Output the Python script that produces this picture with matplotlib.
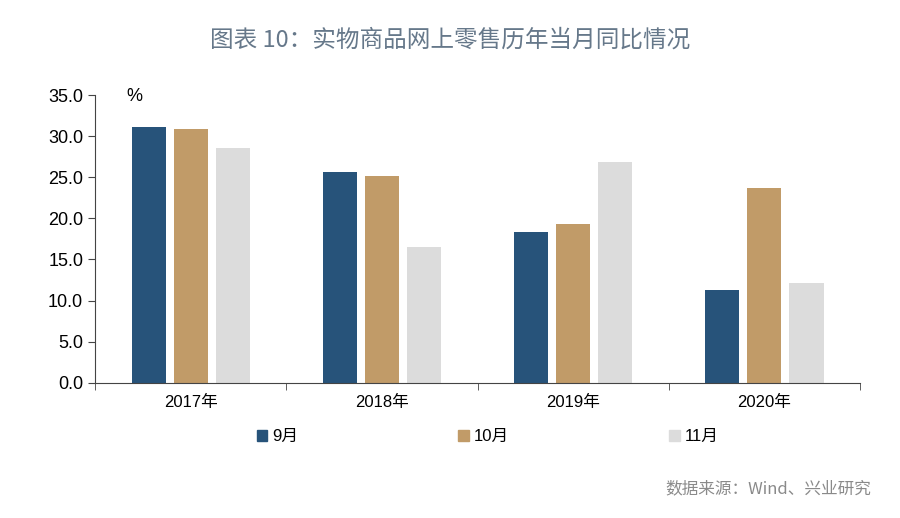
import numpy as np
import matplotlib
matplotlib.use('Agg')
import matplotlib.pyplot as plt
from matplotlib.patches import Patch

plt.rcParams['font.family'] = ['Liberation Sans', 'Noto Sans CJK SC', 'DejaVu Sans']

years = ['2017年', '2018年', '2019年', '2020年']
months = ['9月', '10月', '11月']
sep = [31.1, 25.7, 18.3, 11.3]
octo = [30.85, 25.1, 19.3, 23.7]
nov = [28.5, 16.5, 26.8, 12.1]
colors = ['#27537a', '#c19b68', '#dcdcdc']

fig = plt.figure(figsize=(9, 5.18), dpi=100)
ax = fig.add_axes([0.1056, 0.261, 0.85, 0.5555])

x = np.arange(len(years))
w = 0.178
step = 0.22
for i, (vals, c) in enumerate(zip([sep, octo, nov], colors)):
    ax.bar(x + (i - 1) * step, vals, width=w, color=c, label=months[i])

ax.set_xlim(-0.5, 3.5)
ax.set_ylim(0, 35)
ax.set_yticks(np.arange(0, 36, 5))
ax.set_yticklabels(['%.1f' % v for v in np.arange(0, 36, 5)], fontsize=13)
ax.set_xticks(x)
ax.set_xticklabels(years, fontsize=12)
ax.set_xticks(np.arange(-0.5, 3.6, 1), minor=True)
ax.tick_params(axis='x', which='major', length=0, pad=9)
ax.tick_params(axis='x', which='minor', length=5, direction='out', color='#444444')
ax.tick_params(axis='y', length=5, color='#444444')
for s in ['top', 'right']:
    ax.spines[s].set_visible(False)
for s in ['left', 'bottom']:
    ax.spines[s].set_color('#444444')

fig.text(0.14, 0.805, '%', fontsize=13)

fig.text(0.5, 0.922, '图表 10：实物商品网上零售历年当月同比情况', ha='center', va='center',
         fontsize=17, color='#66788a', fontweight='medium',
         family=['Noto Sans CJK SC', 'DejaVu Sans'])

handles = [Patch(color=c) for c in colors]
fig.legend(handles, months, loc='center', bbox_to_anchor=(0.542, 0.157), ncol=3,
           frameon=False, fontsize=12, handlelength=0.65, handleheight=0.65,
           handletextpad=0.3, columnspacing=9.6)

fig.text(0.968, 0.057, '数据来源：Wind、兴业研究', ha='right', va='center',
         fontsize=12, color='#8a8a8a', family=['Noto Sans CJK SC', 'DejaVu Sans'])

fig.savefig('out.png', dpi=100)
